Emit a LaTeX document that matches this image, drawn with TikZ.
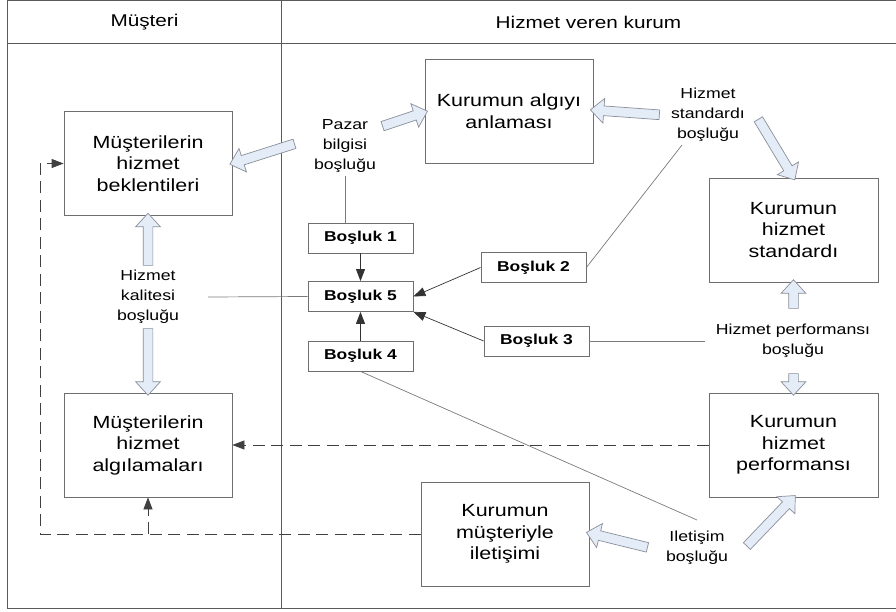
\documentclass[tikz,border=0pt]{standalone}
\usepackage{fontspec}
\setmainfont{Liberation Sans}[FakeStretch=1.22]
\usetikzlibrary{shapes.arrows,arrows.meta,calc}

\definecolor{frameline}{HTML}{5A5A5A}
\definecolor{boxline}{HTML}{6E6E6E}
\definecolor{thinline}{HTML}{7A7A7A}
\definecolor{arrowfill}{HTML}{E4ECF7}
\definecolor{arrowline}{HTML}{8A8F99}

% wide pale arrow from point #1 to point #2
\newcommand\blockarrow[2]{%
  \path let \p1=(#1), \p2=(#2),
    \n1={atan2(\y2-\y1,\x2-\x1)}, \n2={veclen(\x2-\x1,\y2-\y1)} in
    node[fatarrow, minimum height=\n2, rotate=\n1] at ($(\p1)!0.5!(\p2)$) {};}

\tikzset{
  bigbox/.style={draw=boxline, line width=0.8pt, minimum width=168pt, minimum height=104pt,
    align=center, font=\fontsize{17.6}{21.5}\selectfont, inner sep=0pt},
  gapbox/.style={draw=boxline, line width=0.8pt, minimum width=105pt, minimum height=30pt,
    font=\fontsize{14.3}{17}\selectfont\bfseries, inner sep=0pt},
  gaplabel/.style={align=center, font=\fontsize{14.5}{19.8}\selectfont, inner sep=0pt},
  lanehead/.style={font=\fontsize{17}{19}\selectfont, inner sep=0pt},
  link/.style={draw=thinline, line width=0.7pt},
  pointer/.style={link, draw=black!80, -{Triangle[length=12pt,width=9pt]}},
  dashlink/.style={draw=black!75, line width=0.8pt, dash pattern=on 12pt off 6.5pt},
  fatarrow/.style={shape=single arrow, draw=arrowline, fill=arrowfill, line width=0.7pt,
    inner xsep=0pt, inner ysep=4.5pt, minimum width=0pt, outer sep=0pt,
    single arrow head extend=7.5pt, single arrow tip angle=85},
}

\begin{document}
\begin{tikzpicture}[x=1pt, y=-1pt]
\useasboundingbox (0,0) rectangle (896,612);
\fill[white] (0,0) rectangle (896,612);

% swimlane frame
\draw[frameline, line width=1pt] (900,0.7) -- (7.5,0.7) -- (7.5,608) -- (900,608);
\draw[frameline, line width=1pt] (7.5,44) -- (900,44);
\draw[frameline, line width=1pt] (281,0.7) -- (281,608);
\node[lanehead] (laneA) at (144.5,22) {Müşteri};
\node[lanehead] (laneB) at (588.5,22) {Hizmet veren kurum};

% main boxes
\node[bigbox] (beklenti) at (148,163.5) {Müşterilerin\\hizmet\\beklentileri};
\node[bigbox] (algila) at (148,445) {Müşterilerin\\hizmet\\algılamaları};
\node[bigbox] (algiyi) at (509,111) {Kurumun algıyı\\anlaması};
\node[bigbox, minimum width=169pt] (standart) at (793.5,230) {Kurumun\\hizmet\\standardı};
\node[bigbox, minimum width=169pt] (performans) at (793.5,445) {Kurumun\\hizmet\\performansı};
\node[bigbox] (iletisim) at (505,534) {Kurumun\\müşteriyle\\iletişimi};

% gap boxes
\node[gapbox] (b1) at (360.5,238) {Boşluk 1};
\node[gapbox] (b5) at (360.5,296.5) {Boşluk 5};
\node[gapbox] (b4) at (360.5,356) {Boşluk 4};
\node[gapbox] (b2) at (533.5,267.5) {Boşluk 2};
\node[gapbox] (b3) at (536.5,341) {Boşluk 3};

% gap labels
\node[gaplabel] (pazar) at (345,146) {Pazar\\bilgisi\\boşluğu};
\node[gaplabel] (stdgap) at (708,115) {Hizmet\\standardı\\boşluğu};
\node[gaplabel] (kalite) at (148,297) {Hizmet\\kalitesi\\boşluğu};
\node[gaplabel] (perfgap) at (793,340.5) {Hizmet performansı\\boşluğu};
\node[gaplabel] (iletgap) at (697,548) {Iletişim\\boşluğu};

% free ends of the thin links and of the wide arrows
\coordinate (pazarFoot) at (345,176);
\coordinate (stdFoot) at (682,145);
\coordinate (kaliteEnd) at (208,297);
\coordinate (perfEnd) at (705,341);
\coordinate (iletTop) at (697,520);
\coordinate (pzA) at (297,143);
\coordinate (pzB) at (380,127);
\coordinate (stA) at (662,115);
\coordinate (stB) at (757,117);
\coordinate (klA) at (148,268);
\coordinate (klB) at (148,326);
\coordinate (pfA) at (793.5,311);
\coordinate (pfB) at (793.5,371);
\coordinate (ilA) at (650,548);
\coordinate (ilB) at (745,548);
\coordinate (algiyiW) at (425,112);
\coordinate (algiyiE) at (593,110);
\coordinate (iletE) at (589,533);
\coordinate (dashCorner) at (40,534);
\coordinate (dashTop) at (40,163.5);
\coordinate (dashBranch) at (148,534);

% thin links from the gap labels to the gap boxes
\draw[link] (pazarFoot) -- (pazarFoot |- b1.north);
\draw[link] (stdFoot) -- (b2.east);
\draw[link] (kaliteEnd) -- (b5.west);
\draw[link] (b3.east) -- (perfEnd);
\draw[link] (b4.south) -- (iletTop);

% pointers into Boşluk 5
\draw[pointer] (b1.south) -- (b5.north);
\draw[pointer] (b4.north) -- (b5.south);
\draw[pointer] (b2.west) -- (b5.east);
\draw[pointer] (b3.west) -- (b5.south east);

% dashed feedback lines
\draw[dashlink, -{Triangle[length=12pt,width=9pt]}] (performans.west) -- (algila.east);
\draw[dashlink, -{Triangle[length=12pt,width=9pt]}] (iletisim.west) -- (dashCorner) -- (dashTop) -- (beklenti.west);
\draw[dashlink, -{Triangle[length=12pt,width=9pt]}] (dashBranch) -- (algila.south);

% wide pale arrows
\blockarrow{pzA}{beklenti.east}
\blockarrow{pzB}{algiyiW}
\blockarrow{stA}{algiyiE}
\blockarrow{stB}{standart.north}
\blockarrow{klA}{beklenti.south}
\blockarrow{klB}{algila.north}
\blockarrow{pfA}{standart.south}
\blockarrow{pfB}{performans.north}
\blockarrow{ilA}{iletE}
\blockarrow{ilB}{performans.south}
\end{tikzpicture}
\end{document}
